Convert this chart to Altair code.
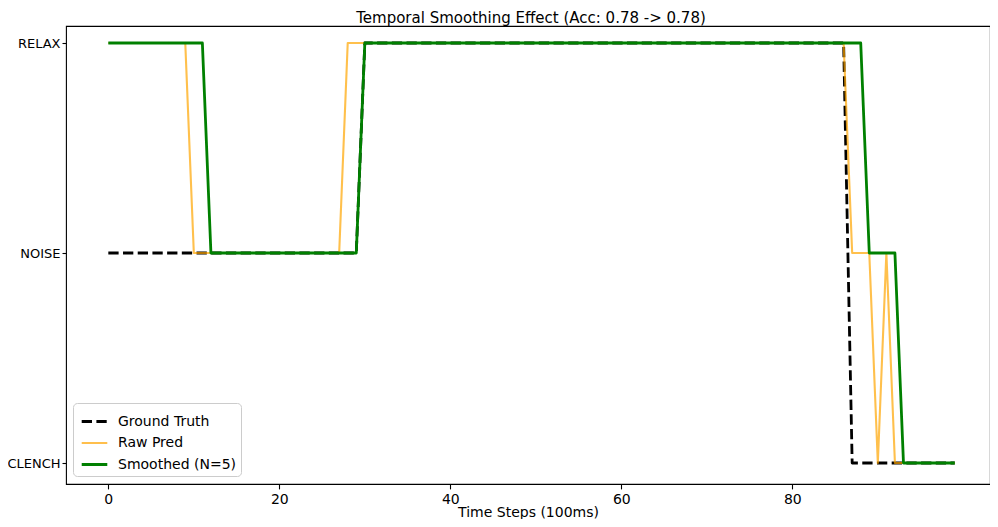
import json
import altair as alt
import pandas as pd

classes = ["CLENCH", "NOISE", "RELAX"]
series_names = ["Ground Truth", "Raw Pred", "Smoothed (N=5)"]
series_colors = ["#000000", "#FFA500", "#008000"]
x_ticks = [0, 20, 40, 60, 80]
title_text = ["Temporal Smoothing Effect (Acc: 0.78 -> 0.78)"]

# run-length readings (label, number of consecutive time steps)
gt_runs = [("NOISE", 30), ("RELAX", 57), ("CLENCH", 13)]
raw_runs = [("RELAX", 10), ("NOISE", 18), ("RELAX", 59), ("NOISE", 3),
            ("CLENCH", 1), ("NOISE", 1), ("CLENCH", 8)]
smooth_runs = [("RELAX", 12), ("NOISE", 18), ("RELAX", 59), ("NOISE", 4),
               ("CLENCH", 7)]

rows = []
for name, runs in zip(series_names, [gt_runs, raw_runs, smooth_runs]):
    labels = [lab for lab, n in runs for _ in range(n)]
    for t, lab in enumerate(labels):
        rows.append({"t": t, "cls": classes.index(lab), "series": name})
df = pd.DataFrame(rows)

legend = alt.Legend(
    title=None, orient="none", legendX=7, legendY=377,
    labelFontSize=14, labelFont="DejaVu Sans", labelColor="black",
    symbolType="stroke", symbolSize=655, symbolOffset=3,
    padding=4, rowPadding=0, labelOffset=9,
    fillColor="white", strokeColor="#cccccc", cornerRadius=4,
)

label_expr = json.dumps(classes) + "[datum.value]"

lines = alt.Chart(df).mark_line(strokeJoin="round").encode(
    x=alt.X("t:Q",
            scale=alt.Scale(domain=[-4.95, 103.12], nice=False, zero=False),
            axis=alt.Axis(values=x_ticks, title="Time Steps (100ms)",
                          tickSize=4.9, labelPadding=3.5,
                          titleBaseline="alphabetic", titleY=32,
                          labelFontSize=14, titleFontSize=14)),
    y=alt.Y("cls:Q",
            scale=alt.Scale(domain=[-0.1, 2.081], nice=False, zero=False),
            axis=alt.Axis(values=[0, 1, 2], labelExpr=label_expr, title=None,
                          tickSize=4, labelPadding=2, labelFontSize=13)),
    color=alt.Color("series:N", scale=alt.Scale(domain=series_names, range=series_colors), legend=legend),
    strokeDash=alt.StrokeDash("series:N", scale=alt.Scale(type="ordinal", domain=series_names, range=[[10.3, 4.4], [1, 0], [1, 0]]), legend=legend),
    strokeWidth=alt.StrokeWidth("series:N", scale=alt.Scale(type="ordinal", domain=series_names, range=[2.8, 2.1, 2.8]), legend=legend),
    opacity=alt.Opacity("series:N", scale=alt.Scale(type="ordinal", domain=series_names, range=[1, 0.7, 1]), legend=legend),
)

title = alt.Chart(pd.DataFrame({"text": title_text})).mark_text(
    fontSize=15, font="DejaVu Sans", color="black",
    align="center", baseline="alphabetic"
).encode(
    text="text:N", x=alt.value(465), y=alt.value(-3)
)

chart = alt.layer(lines, title).properties(
    width=924, height=458,
    autosize=alt.AutoSizeParams(type="none"),
    padding={"left": 58, "top": 18, "right": 0, "bottom": 35},
).configure_view(
    stroke="black", strokeWidth=1.1
).configure_axis(
    grid=False, domain=False, tickColor="black", tickWidth=1.1,
    labelColor="black", titleColor="black", labelFont="DejaVu Sans",
    titleFont="DejaVu Sans", titleFontWeight="normal"
)

chart.save("out.html", embed_options={"renderer": "svg", "actions": False})
